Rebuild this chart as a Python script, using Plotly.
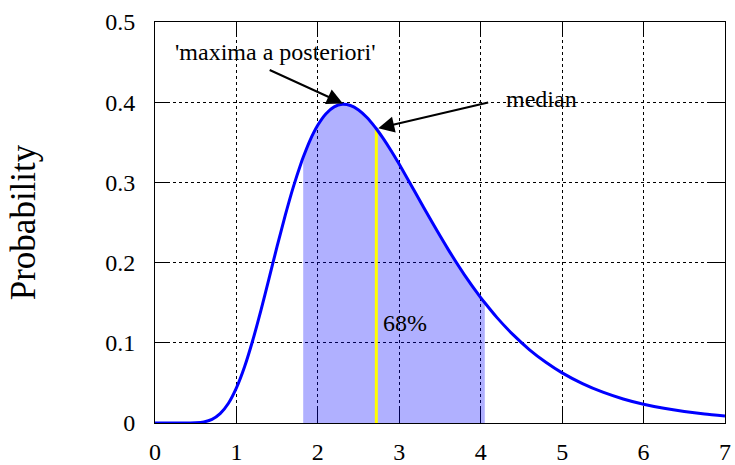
import plotly.graph_objects as go

# Posterior density
x_vals = [0.0, 0.3, 0.4, 0.5, 0.6, 0.7, 0.8, 0.9, 1.0, 1.1, 1.2, 1.3, 1.4, 1.5,
          1.6, 1.7, 1.8, 1.82, 1.9, 2.0, 2.1, 2.2, 2.3, 2.4, 2.5, 2.6, 2.7, 2.718,
          2.8, 2.9, 3.0, 3.2, 3.4, 3.6, 3.8, 4.0, 4.05, 4.2, 4.4, 4.6, 4.8, 5.0,
          5.25, 5.5, 5.75, 6.0, 6.25, 6.5, 6.75, 7.0]
density = [0.0, 0.0, 0.00003, 0.00026, 0.0013, 0.0045, 0.0116, 0.0243, 0.0438,
           0.0702, 0.1029, 0.1402, 0.1800, 0.2204, 0.2591, 0.2947, 0.3258, 0.3314,
           0.3516, 0.3715, 0.3857, 0.3942, 0.3974, 0.3959, 0.3903, 0.3812, 0.3693,
           0.3669, 0.3552, 0.3395, 0.3225, 0.2868, 0.2508, 0.2165, 0.1848, 0.1564,
           0.1499, 0.1314, 0.1098, 0.0913, 0.0757, 0.0625, 0.0491, 0.0384, 0.0300,
           0.0234, 0.0183, 0.0143, 0.0111, 0.0087]

# 68% credible interval and point estimates
interval_lo = 1.82
interval_hi = 4.05
mode_x, mode_y = 2.3, 0.3974
median_x, median_y = 2.718, 0.3669

x_ticks = [0, 1, 2, 3, 4, 5, 6, 7]
x_ticktext = ["0", "1", "2", "3", "4", "5", "6", "7"]
y_ticks = [0, 0.1, 0.2, 0.3, 0.4, 0.5]
y_ticktext = ["0", "0.1", "0.2", "0.3", "0.4", "0.5"]

FONT = "Liberation Serif"

band_x = [x for x in x_vals if interval_lo <= x <= interval_hi]
band_y = [y for x, y in zip(x_vals, density) if interval_lo <= x <= interval_hi]

fig = go.Figure()

# shaded credible interval
fig.add_trace(go.Scatter(
    x=[band_x[0]] + band_x + [band_x[-1]],
    y=[0] + band_y + [0],
    mode="lines", fill="toself",
    fillcolor="rgba(0,0,255,0.31)",
    line=dict(width=0), hoverinfo="skip",
))

# median marker line
fig.add_trace(go.Scatter(
    x=[median_x, median_x], y=[0, median_y],
    mode="lines", line=dict(color="#ffff00", width=3), hoverinfo="skip",
))

# density curve
fig.add_trace(go.Scatter(
    x=x_vals, y=density, mode="lines",
    line=dict(color="#0000ff", width=3, shape="spline", smoothing=0.6),
    cliponaxis=False,
))

axis_common = dict(
    showline=True, linecolor="black", linewidth=1, mirror="allticks",
    ticks="inside", ticklen=15, tickcolor="black", tickwidth=1,
    showgrid=True, gridcolor="black", griddash="dot", gridwidth=1,
    zeroline=False, tickfont=dict(family=FONT, size=24, color="black"),
    layer="below traces",
)

fig.update_xaxes(range=[0, 7], tickvals=x_ticks, ticktext=x_ticktext,
                 ticklabelstandoff=7, **axis_common)
fig.update_yaxes(range=[0, 0.5], tickvals=y_ticks, ticktext=y_ticktext,
                 ticklabelstandoff=14,
                 title=dict(text="Probability", font=dict(family=FONT, size=35, color="black"),
                            standoff=58),
                 **axis_common)

text_font = dict(family=FONT, size=24, color="black")
fig.add_annotation(x=1.474, y=0.4628, text="'maxima a posteriori'", showarrow=False,
                   font=text_font)
fig.add_annotation(x=mode_x + 0.03, y=mode_y, ax=1.39, ay=0.441, axref="x", ayref="y",
                   text="", showarrow=True, arrowhead=2, arrowsize=1.6, arrowwidth=2,
                   arrowcolor="black", standoff=2)
fig.add_annotation(x=4.749, y=0.4035, text="median", showarrow=False, font=text_font)
fig.add_annotation(x=median_x, y=median_y, ax=4.11, ay=0.4, axref="x", ayref="y",
                   text="", showarrow=True, arrowhead=2, arrowsize=1.6, arrowwidth=2,
                   arrowcolor="black", standoff=2)
fig.add_annotation(x=3.076, y=0.1245, text="68%", showarrow=False, font=text_font)

fig.update_layout(
    width=735, height=465,
    margin=dict(l=155, r=10, t=22, b=42, autoexpand=False),
    paper_bgcolor="white", plot_bgcolor="white",
    showlegend=False,
)

fig.write_html("out.html")
